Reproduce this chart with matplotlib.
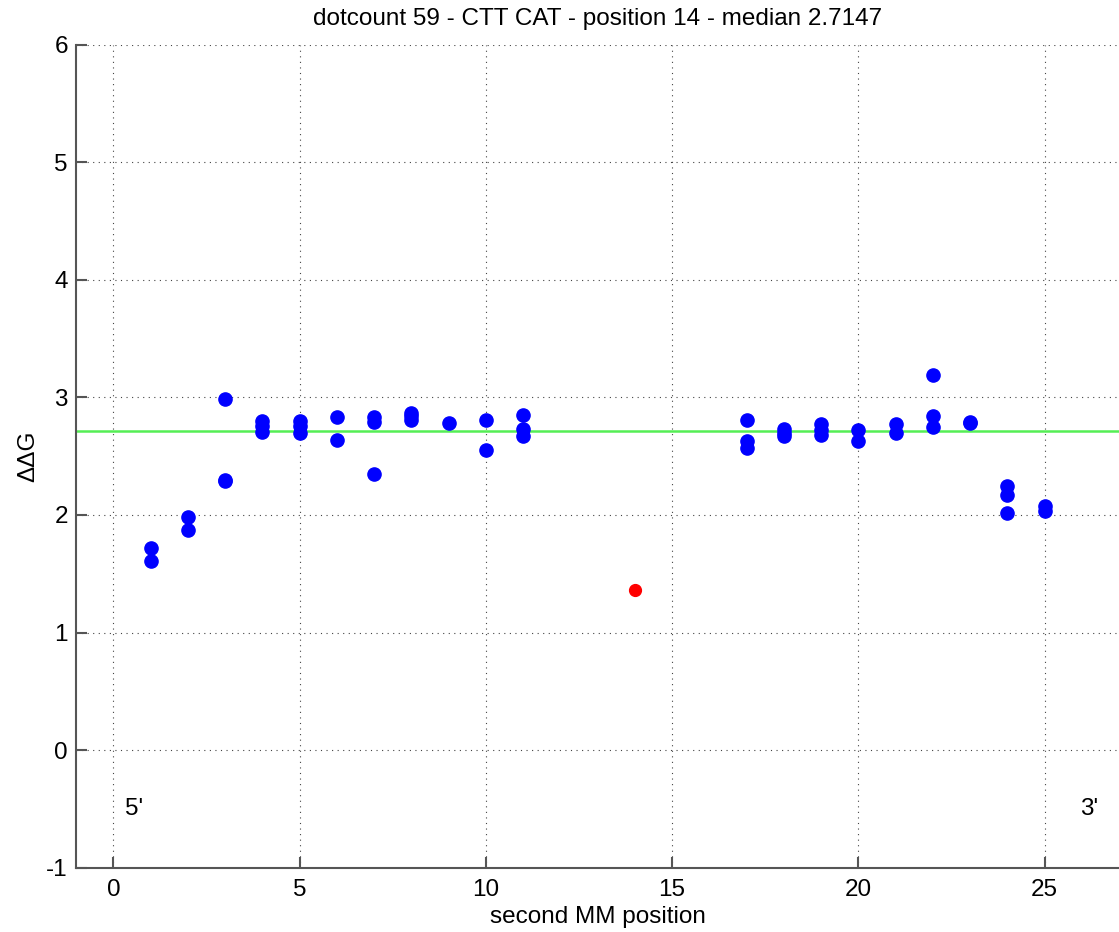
import numpy as np
import matplotlib
matplotlib.use("Agg")
import matplotlib.pyplot as plt

plt.rcParams['font.family'] = ['Liberation Sans', 'DejaVu Sans']
plt.rcParams['axes.unicode_minus'] = False

# second mismatch positions and their ddG values
pos = [1, 1, 2, 2, 3, 3, 3,
       4, 4, 4, 5, 5, 5, 6, 6, 7, 7, 7,
       8, 8, 8, 9, 10, 10, 11, 11, 11,
       17, 17, 17, 18, 18, 18, 19, 19, 19, 20, 20,
       21, 21, 22, 22, 22, 23, 23, 24, 24, 24, 25, 25]
ddg = [1.72, 1.61, 1.98, 1.87, 2.99, 2.30, 2.29,
       2.80, 2.76, 2.71, 2.80, 2.76, 2.70, 2.83, 2.64, 2.83, 2.79, 2.35,
       2.87, 2.84, 2.81, 2.78, 2.81, 2.55, 2.85, 2.73, 2.67,
       2.81, 2.63, 2.57, 2.73, 2.70, 2.67, 2.77, 2.72, 2.68, 2.72, 2.63,
       2.77, 2.70, 3.19, 2.84, 2.75, 2.79, 2.78, 2.25, 2.17, 2.02, 2.08, 2.03]

first_pos = 14
first_ddg = 1.36
mediana = 2.7147

fs = 17.5

fig = plt.figure(figsize=(11.19, 9.32), dpi=100)
ax = fig.add_axes([0.068, 0.069, 0.932, 0.883])

ax.axhline(mediana, color="#55ee55", lw=1.8, zorder=1)
ax.plot(pos, ddg, "o", color="#0000ff", ms=9.5, mec="#0000ff", zorder=3)
ax.plot([first_pos], [first_ddg], "o", color="#ff0000", ms=8.5, mec="#ff0000", zorder=3)

ax.text(0.3, -0.5, "5'", fontsize=fs, ha="left", va="center")
ax.text(25.95, -0.5, "3'", fontsize=fs, ha="left", va="center")

ax.set_xlim(-1, 27)
ax.set_ylim(-1, 6)
ax.set_xticks(range(0, 26, 5))
ax.set_yticks(range(-1, 7))
ax.grid(True, linestyle=(0, (1, 4)), color="#444444", lw=0.8)
ax.set_axisbelow(True)
ax.tick_params(direction="in", length=8, width=1.5, colors="#555555",
               labelcolor="black", labelsize=fs)
ax.tick_params(axis="x", pad=8)
ax.tick_params(axis="y", pad=6)
for s in ["top", "right"]:
    ax.spines[s].set_visible(False)
for s in ["left", "bottom"]:
    ax.spines[s].set_color("#555555")
    ax.spines[s].set_linewidth(1.5)

ax.set_xlabel("second MM position", fontsize=fs, labelpad=4)
ax.set_ylabel("ΔΔG", fontsize=fs, labelpad=5)
ax.set_title("dotcount 59 - CTT CAT - position 14 - median 2.7147", fontsize=fs, pad=14)

plt.savefig("out.png", dpi=100)
